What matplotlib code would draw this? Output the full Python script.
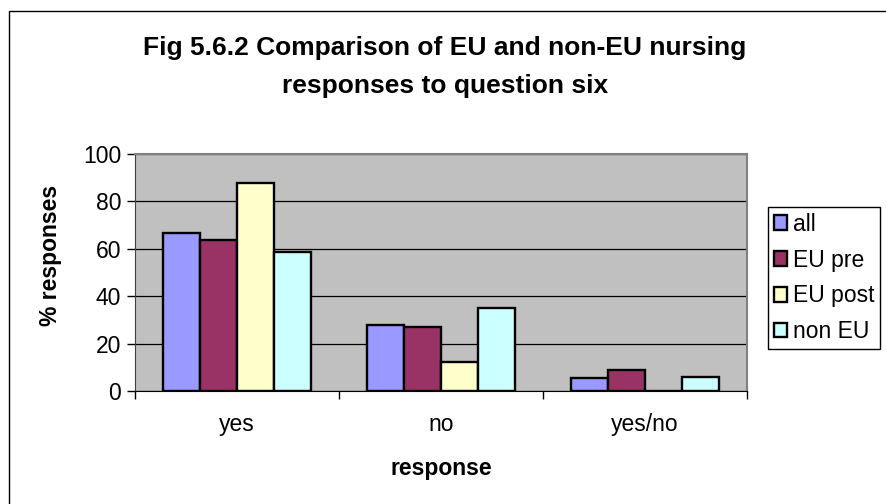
import matplotlib
matplotlib.use("Agg")
import matplotlib.pyplot as plt
import matplotlib.patches as mpatches
import numpy as np

plt.rcParams['font.family'] = ['Liberation Sans', 'DejaVu Sans']

categories = ["yes", "no", "yes/no"]
series_names = ["all", "EU pre", "EU post", "non EU"]
all_vals = [66.6, 27.7, 5.3]
eu_pre = [63.5, 27.1, 9.0]
eu_post = [87.5, 12.4, 0.0]
non_eu = [58.7, 35.1, 5.8]
colors = ["#9999FF", "#993366", "#FFFFCC", "#CCFFFF"]
yticks = [0, 20, 40, 60, 80, 100]

W, H = 886, 504
fig = plt.figure(figsize=(W / 100, H / 100), dpi=100)

# outer chart border
fig.patches.append(mpatches.Rectangle((9 / W, -0.2), 2.0, 1 - 11 / H + 0.2,
                                      transform=fig.transFigure, fill=False,
                                      edgecolor="black", linewidth=1.0))

ax = fig.add_axes([135 / W, (H - 391) / H, 612 / W, 237.3 / H])
ax.set_facecolor("#C0C0C0")

x = np.arange(len(categories))
bw = 0.182
series = [all_vals, eu_pre, eu_post, non_eu]
for i, (vals, c, name) in enumerate(zip(series, colors, series_names)):
    ax.bar(x + (i - 1.5) * bw, vals, width=bw, color=c, edgecolor="black",
           linewidth=1.7, label=name, zorder=3)

fs = 16.5
ax.set_xlim(-0.5, 2.5)
ax.set_ylim(0, 100)
ax.set_yticks(yticks)
ax.set_yticklabels([str(v) for v in yticks], fontsize=fs)
ax.yaxis.grid(True, color="black", linewidth=0.9, zorder=1)
ax.set_axisbelow(True)
ax.set_xticks([-0.5, 0.5, 1.5, 2.5])
ax.set_xticklabels([])
ax.set_xticks(x, minor=True)
ax.set_xticklabels(categories, minor=True, fontsize=fs)
ax.tick_params(axis="x", which="minor", length=0, pad=16)
ax.tick_params(axis="x", which="major", direction="out", length=6, width=1)
ax.tick_params(axis="y", direction="out", length=6, width=1, pad=4)

for s in ["top", "right"]:
    ax.spines[s].set_color("#808080")
    ax.spines[s].set_linewidth(1.5)
ax.spines["left"].set_color("#404040")
ax.spines["bottom"].set_color("black")

ax.set_ylabel("% responses", fontsize=fs, fontweight="bold")
ax.yaxis.set_label_coords((62 - 135) / 612, (391 - 255) / 237.3)
ax.set_xlabel("response", fontsize=fs, fontweight="bold")
ax.xaxis.set_label_coords(0.5, (391 - 457) / 237.3)

fig.text(445 / W, 1 - 48 / H, "Fig 5.6.2 Comparison of EU and non-EU nursing",
         ha="center", va="center", fontsize=19, fontweight="bold")
fig.text(445 / W, 1 - 86 / H, "responses to question six",
         ha="center", va="center", fontsize=19, fontweight="bold")

leg = ax.legend(loc="upper left", bbox_to_anchor=(768 / W, 1 - 207 / H),
                bbox_transform=fig.transFigure, fontsize=fs, frameon=True,
                fancybox=False, edgecolor="black", framealpha=1,
                handlelength=0.6, handleheight=0.6, handletextpad=0.25,
                labelspacing=0.56, borderpad=0.25, borderaxespad=0)
leg.get_frame().set_linewidth(1.0)
for h in leg.legend_handles:
    h.set_linewidth(1.7)

fig.savefig("out.png", dpi=100)
